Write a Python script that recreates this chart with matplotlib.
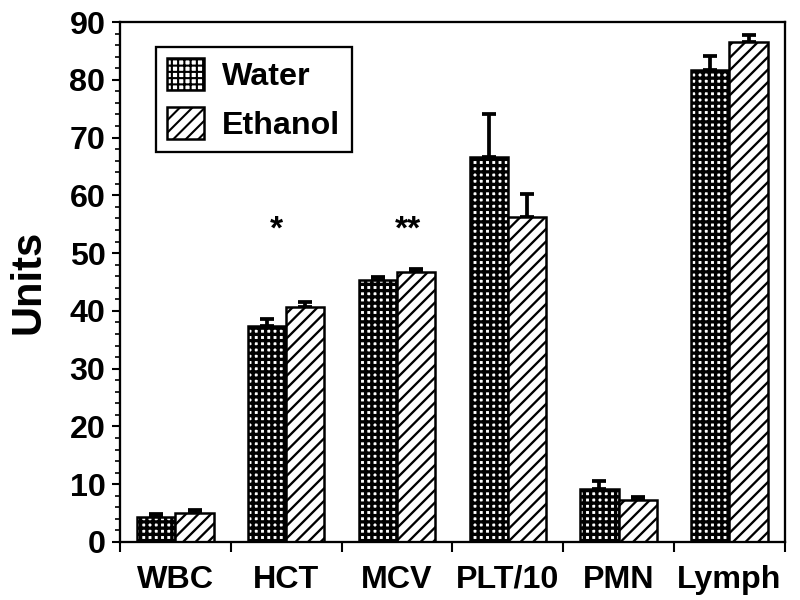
import numpy as np
import matplotlib
matplotlib.use("Agg")
import matplotlib.pyplot as plt
from matplotlib.patches import Patch

plt.rcParams['font.family'] = ['Liberation Sans', 'DejaVu Sans']
plt.rcParams['font.weight'] = 'bold'

# data
categories = ['WBC', 'HCT', 'MCV', 'PLT/10', 'PMN', 'Lymph']
water = [4.4, 37.4, 45.4, 66.6, 9.2, 81.7]
water_err = [0.4, 1.2, 0.5, 7.4, 1.3, 2.5]
ethanol = [5.1, 40.6, 46.8, 56.2, 7.2, 86.5]
ethanol_err = [0.5, 1.0, 0.4, 4.0, 0.6, 1.3]
stars = {1: '*', 2: '**'}

WATER_HATCH = '++++'
ETH_HATCH = '////'
WATER_HLW = 1.6
ETH_HLW = 1.1


def hatch_lw(artists, val):
    for a in artists:
        if hasattr(a, 'set_hatch_linewidth'):
            a.set_hatch_linewidth(val)


fig = plt.figure(figsize=(800/150, 600/150), dpi=150)
ax = fig.add_axes([0.15, 0.0967, 0.831, 0.8666])

x = np.arange(len(categories))
w = 0.345
lw = 1.2

with plt.rc_context({'hatch.linewidth': WATER_HLW}):
    b1 = ax.bar(x - w/2, water, w, facecolor='white', edgecolor='black',
                hatch=WATER_HATCH, linewidth=lw, zorder=2)
with plt.rc_context({'hatch.linewidth': ETH_HLW}):
    b2 = ax.bar(x + w/2, ethanol, w, facecolor='white', edgecolor='black',
                hatch=ETH_HATCH, linewidth=lw, zorder=2)
hatch_lw(b1, WATER_HLW)
hatch_lw(b2, ETH_HLW)

# upper error bars only
ax.errorbar(x - w/2, water, yerr=[np.zeros(len(x)), water_err], fmt='none',
            ecolor='black', elinewidth=1.8, capsize=3.2, capthick=1.8, zorder=1)
ax.errorbar(x + w/2, ethanol, yerr=[np.zeros(len(x)), ethanol_err], fmt='none',
            ecolor='black', elinewidth=1.8, capsize=3.2, capthick=1.8, zorder=1)

for i, s in stars.items():
    ax.text(x[i] - 0.085 if i == 1 else x[i] + 0.1, 54.0, s, ha='center',
            va='center', fontsize=16, fontweight='bold')

ax.set_xlim(-0.5, len(categories) - 0.5)
ax.set_ylim(0, 90)
ax.set_yticks(np.arange(0, 91, 10))
ax.set_yticks(np.arange(0, 91, 2), minor=True)
ax.set_xticks(x)
ax.set_xticklabels(categories)
ax.set_xticks(np.arange(-0.5, len(categories), 1), minor=True)
ax.tick_params(axis='x', which='major', length=0, pad=11, labelsize=15.5)
ax.tick_params(axis='x', which='minor', length=5, width=1)
ax.tick_params(axis='y', which='major', length=4, width=1, labelsize=15.5, pad=3)
ax.tick_params(axis='y', which='minor', length=2.5, width=0.8)
for sp in ax.spines.values():
    sp.set_linewidth(1.1)

ax.set_ylabel('Units', fontsize=20, fontweight='bold', labelpad=10)

with plt.rc_context({'hatch.linewidth': WATER_HLW}):
    h1 = Patch(facecolor='white', edgecolor='black', hatch=WATER_HATCH, linewidth=lw)
with plt.rc_context({'hatch.linewidth': ETH_HLW}):
    h2 = Patch(facecolor='white', edgecolor='black', hatch=ETH_HATCH, linewidth=lw)
hatch_lw([h1], WATER_HLW)
hatch_lw([h2], ETH_HLW)
leg = ax.legend([h1, h2], ['Water', 'Ethanol'], loc='upper left',
                bbox_to_anchor=(0.054, 0.952), fontsize=15.5, fancybox=False,
                framealpha=1, edgecolor='black', handlelength=1.15,
                handleheight=1.15, handletextpad=0.55, labelspacing=0.45,
                borderpad=0.35, borderaxespad=0)
leg.get_frame().set_linewidth(1.1)

fig.savefig('out.png', dpi=150)
